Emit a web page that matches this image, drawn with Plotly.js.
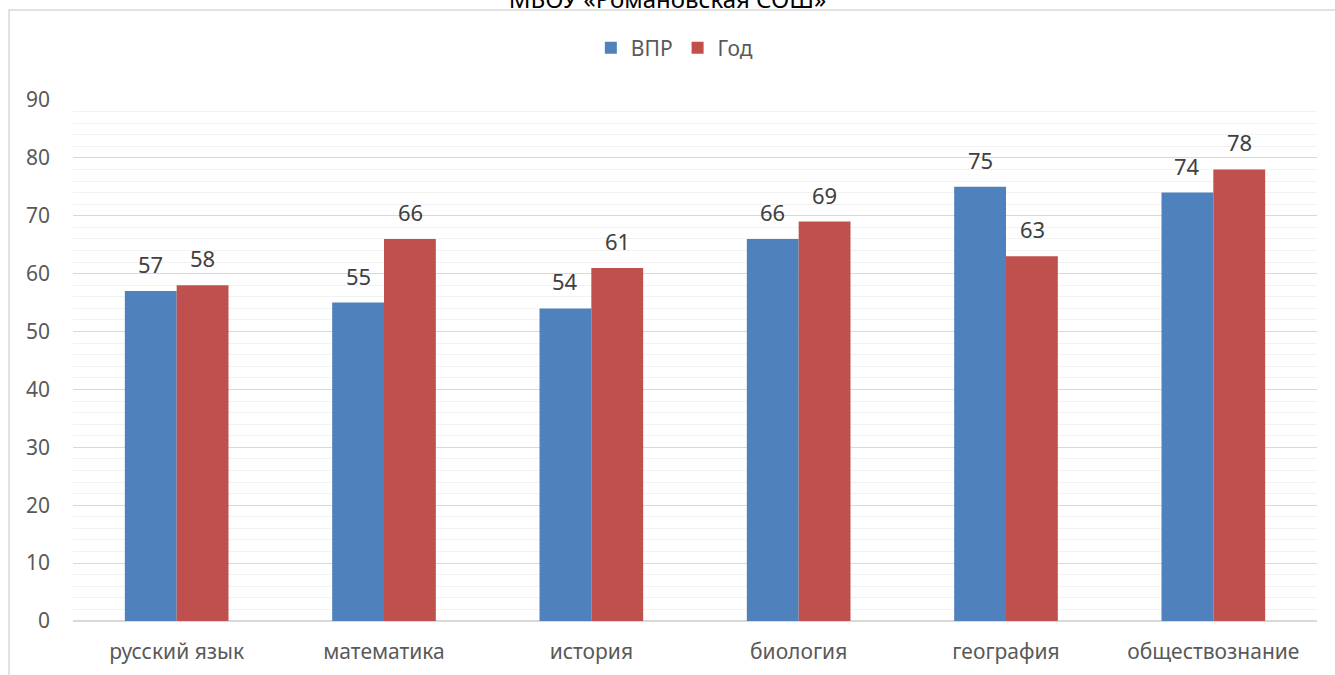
<!DOCTYPE html>
<html><head><meta charset="utf-8">
<script src="https://cdn.plot.ly/plotly-3.0.1.min.js"></script>
<style>html,body{margin:0;padding:0;background:#fff}#chart{width:1335px;height:675px}</style>
</head><body><div id="chart"></div>
<script>
const categories = ["русский язык","математика","история","биология","география","обществознание"];
const vpr = [57,55,54,66,75,74];
const god = [58,66,61,69,63,78];
const seriesNames = ["ВПР","Год"];
const titleText = "МБОУ «Романовская СОШ»";

const FONT = "'Noto Sans', 'Open Sans', sans-serif";
const traces = [
  {type:'bar', name:seriesNames[0], x:categories, y:vpr, marker:{color:'#4F81BD'}, hoverinfo:'y'},
  {type:'bar', name:seriesNames[1], x:categories, y:god, marker:{color:'#C0504D'}, hoverinfo:'y'}
];
const ann = [];
[vpr, god].forEach((arr, si) => {
  arr.forEach((v, i) => {
    ann.push({x:categories[i], y:v, xref:'x', yref:'y', text:String(v), showarrow:false,
      xshift: si===0 ? -26 : 26, yshift: 10, yanchor:'bottom',
      font:{family:FONT, size:22, color:'#404040'}});
  });
});
const layout = {
  width:1335, height:675,
  margin:{l:73, r:18, t:100, b:54},
  paper_bgcolor:'#fff', plot_bgcolor:'#fff',
  font:{family:FONT, color:'#595959', size:21},
  title:{text:titleText, x:0.5, xanchor:'center', y:1, yanchor:'middle', yref:'container',
    font:{family:FONT, size:24, color:'#000'}},
  barmode:'group', bargap:0.5, bargroupgap:0,
  showlegend:true,
  legend:{orientation:'h', x:0.4834, xanchor:'center', y:1.0998, yanchor:'middle',
    font:{family:FONT, size:21, color:'#595959'}, itemwidth:30, tracegroupgap:0},
  xaxis:{type:'category', showgrid:false, showline:false, zeroline:false, ticks:'',
    ticklabelstandoff:16, tickfont:{family:FONT, size:21, color:'#595959'}},
  yaxis:{range:[0,90], dtick:10, tick0:0, showgrid:true, gridcolor:'#D9D9D9', gridwidth:1,
    zeroline:true, zerolinecolor:'#D9D9D9', zerolinewidth:1.5, showline:false, ticks:'',
    ticklabelstandoff:22, tickfont:{family:FONT, size:21, color:'#595959'},
    minor:{dtick:2, showgrid:true, gridcolor:'#F2F2F2', gridwidth:1}},
  annotations: ann,
  shapes:[{type:'rect', xref:'paper', yref:'paper', x0:-0.0514, x1:1.2, y0:-0.3, y1:1.1727,
    line:{color:'#D9D9D9', width:1.5}, fillcolor:'rgba(0,0,0,0)', layer:'below'}]
};
Plotly.newPlot('chart', traces, layout, {displayModeBar:false, staticPlot:true});
</script></body></html>
